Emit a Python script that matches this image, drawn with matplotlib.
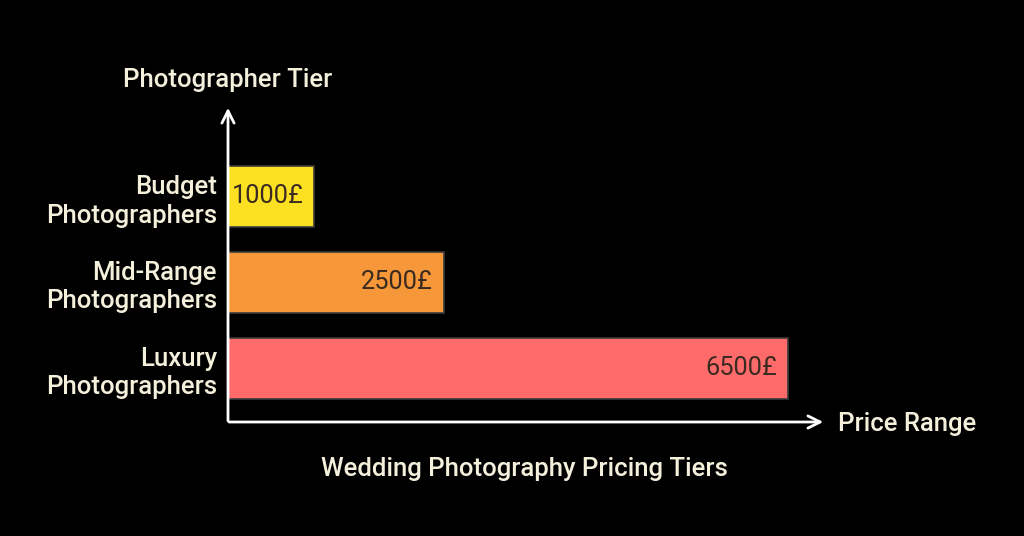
import numpy as np
import matplotlib.pyplot as plt

plt.rcParams['font.family'] = ['Roboto', 'DejaVu Sans']

tiers = ['Luxury\nPhotographers', 'Mid-Range\nPhotographers', 'Budget\nPhotographers']
prices = [6500, 2500, 1000]
price_labels = ['6500£', '2500£', '1000£']
colors = ['#FF6B6B', '#F6973A', '#FBE122']

fig = plt.figure(figsize=(10.24, 5.36), dpi=100, facecolor='black')
W, H = 1024, 536
# axes placed by pixel box: x 228..826, y 105..422
ax = fig.add_axes([228 / W, 1 - 422 / H, (826 - 228) / W, (422 - 105) / H])
ax.set_facecolor('black')

y = np.arange(len(tiers))
ax.barh(y, prices, height=0.71, color=colors, edgecolor='#3a3a3a', linewidth=1.2)
ax.set_xlim(0, 598 / 0.0862)
ax.set_ylim(-0.628, 3.064)

for yi, p, lab in zip(y, prices, price_labels):
    ax.text(p - 128, yi, lab, ha='right', va='center', fontsize=18.3, color='#3b2a20')

ax.set_yticks(y)
ax.set_yticklabels(tiers, fontsize=18.5, color='#F5F0DC', fontweight='medium', linespacing=1.25)
ax.tick_params(axis='y', length=0, pad=8)
ax.set_xticks([])
for s in ax.spines.values():
    s.set_visible(False)

# axis arrows
ax.annotate('', xy=(1.0, 0), xytext=(-0.003, 0), xycoords='axes fraction',
            arrowprops=dict(arrowstyle='->', color='white', lw=2, mutation_scale=22))
ax.annotate('', xy=(0, 1.0), xytext=(0, -0.005), xycoords='axes fraction',
            arrowprops=dict(arrowstyle='->', color='white', lw=2, mutation_scale=22))

fig.text(228 / W, 1 - 80 / H, 'Photographer Tier', ha='center', va='center',
         fontsize=18.5, color='#F5F0DC', fontweight='medium')
fig.text(838 / W, 1 - 424 / H, 'Price Range', ha='left', va='center',
         fontsize=18.5, color='#F5F0DC', fontweight='medium')
fig.text(524 / W, 1 - 469 / H, 'Wedding Photography Pricing Tiers', ha='center', va='center',
         fontsize=18.5, color='#F5F0DC', fontweight='medium')

fig.savefig('out.png', dpi=100, facecolor='black')
